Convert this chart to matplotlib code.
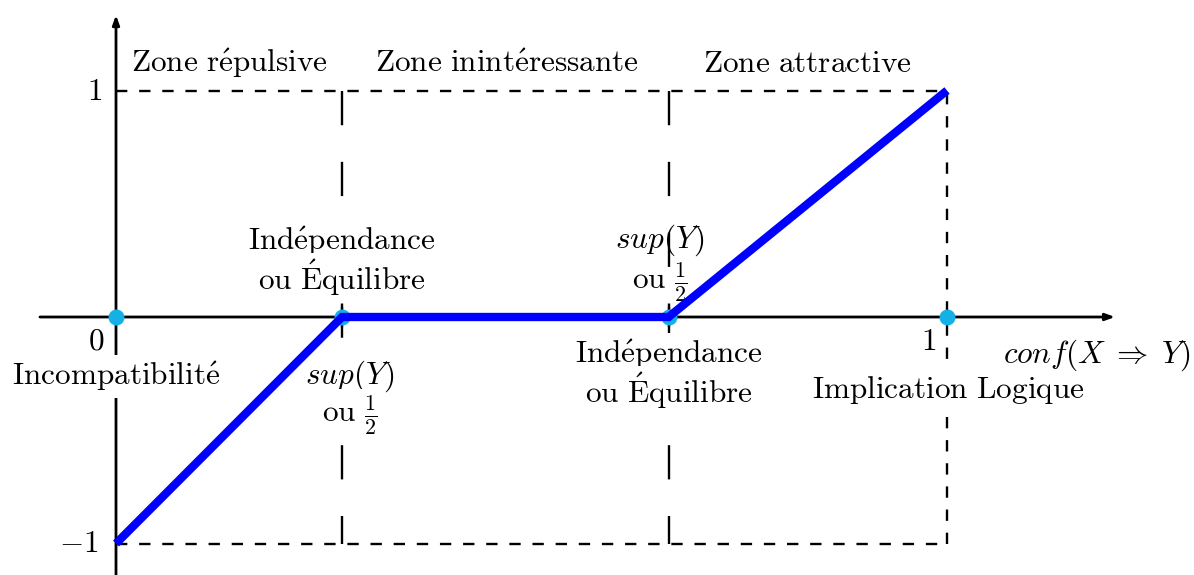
import matplotlib
matplotlib.use("Agg")
import matplotlib.pyplot as plt

plt.rcParams['mathtext.fontset'] = 'cm'
plt.rcParams['font.family'] = 'serif'
plt.rcParams['font.serif'] = ['cmr10', 'DejaVu Serif']

# key abscissae: incompatibility, independence (left), independence (right), logical implication
x_knots = [0.0, 0.272, 0.665, 1.0]
y_knots = [-1.0, 0.0, 0.0, 1.0]
zone_labels = [r'$\mathrm{Zone\ r\'epulsive}$',
               r'$\mathrm{Zone\ inint\'eressante}$',
               r'$\mathrm{Zone\ attractive}$']

FS = 22.5

fig = plt.figure(figsize=(11.94, 5.75), dpi=100)
ax = fig.add_axes([0, 0, 1, 1])
ax.set_xlim(-116 / 831, (1194 - 116) / 831)
ax.set_ylim(-(575 - 317) / 226.5, 317 / 226.5)
ax.axis('off')

# ------------------------------
# frame: short dashes
# ------------------------------
short = dict(color='k', lw=1.7, dashes=(4.8, 5.0), zorder=1)
ax.plot([x_knots[0], x_knots[-1]], [1, 1], **short)
ax.plot([x_knots[0], x_knots[-1]], [-1, -1], **short)
ax.plot([x_knots[-1], x_knots[-1]], [-1, 1], **short)

# long dashes at the two independence points
for xv in x_knots[1:3]:
    ax.plot([xv, xv], [1, -1], color='k', lw=1.7, dashes=(14.5, 15.5), zorder=1)
    ax.plot([xv, xv], [-0.04, 0.04], color='k', lw=1.7, zorder=2)

# ------------------------------
# axes with arrows
# ------------------------------
arr = dict(arrowstyle='-|>,head_length=0.55,head_width=0.2', lw=2, color='k',
           shrinkA=0, shrinkB=0)
ax.annotate('', xy=(1.2022, 0), xytext=(-0.0915, 0), arrowprops=arr, zorder=2)
ax.annotate('', xy=(0, 1.333), xytext=(0, -1.139), arrowprops=arr, zorder=2)

# ------------------------------
# curve and points
# ------------------------------
ax.plot(x_knots, [0] * len(x_knots), 'o', color='#14b1e7', ms=10.5, zorder=3)
ax.plot(x_knots, y_knots, color='#0000ff', lw=6, solid_joinstyle='miter',
        solid_capstyle='butt', zorder=4)


def px(xp, yp):
    return (xp - 116) / 831, (317 - yp) / 226.5


def txt(xp, yp, s, ha='center', box=True):
    x, y = px(xp, yp)
    kw = {}
    if box:
        kw['bbox'] = dict(boxstyle='square,pad=0.15', fc='white', ec='none')
    ax.text(x, y, s, ha=ha, va='baseline', fontsize=FS, zorder=3.5, **kw)


for xc, lab in zip([229, 507, 807], zone_labels):
    txt(xc, 72, lab, box=False)

txt(102, 100, r'$1$', ha='right', box=False)
txt(98, 552, r'$-1$', ha='right', box=False)
txt(104, 350, r'$0$', ha='right', box=False)
txt(936, 350, r'$1$', ha='right', box=False)

txt(116, 385, r'$\mathrm{Incompatibilit\'e}$')
txt(342, 250, r'$\mathrm{Ind\'ependance}$')
txt(342, 290, r'$\mathrm{ou\ \'Equilibre}$')
txt(350, 384, r'$sup(Y)$')
txt(350, 422, r'$\mathrm{ou}\ \frac{1}{2}$')
txt(660, 248, r'$sup(Y)$', box=False)
txt(660, 289, r'$\mathrm{ou}\ \frac{1}{2}$', box=False)
txt(669, 363, r'$\mathrm{Ind\'ependance}$')
txt(669, 403, r'$\mathrm{ou\ \'Equilibre}$')
txt(948, 398, r'$\mathrm{Implication\ Logique}$')
txt(1097, 363, r'$conf(X\;\Rightarrow\;Y)$', box=False)

fig.savefig('out.png', dpi=100)
